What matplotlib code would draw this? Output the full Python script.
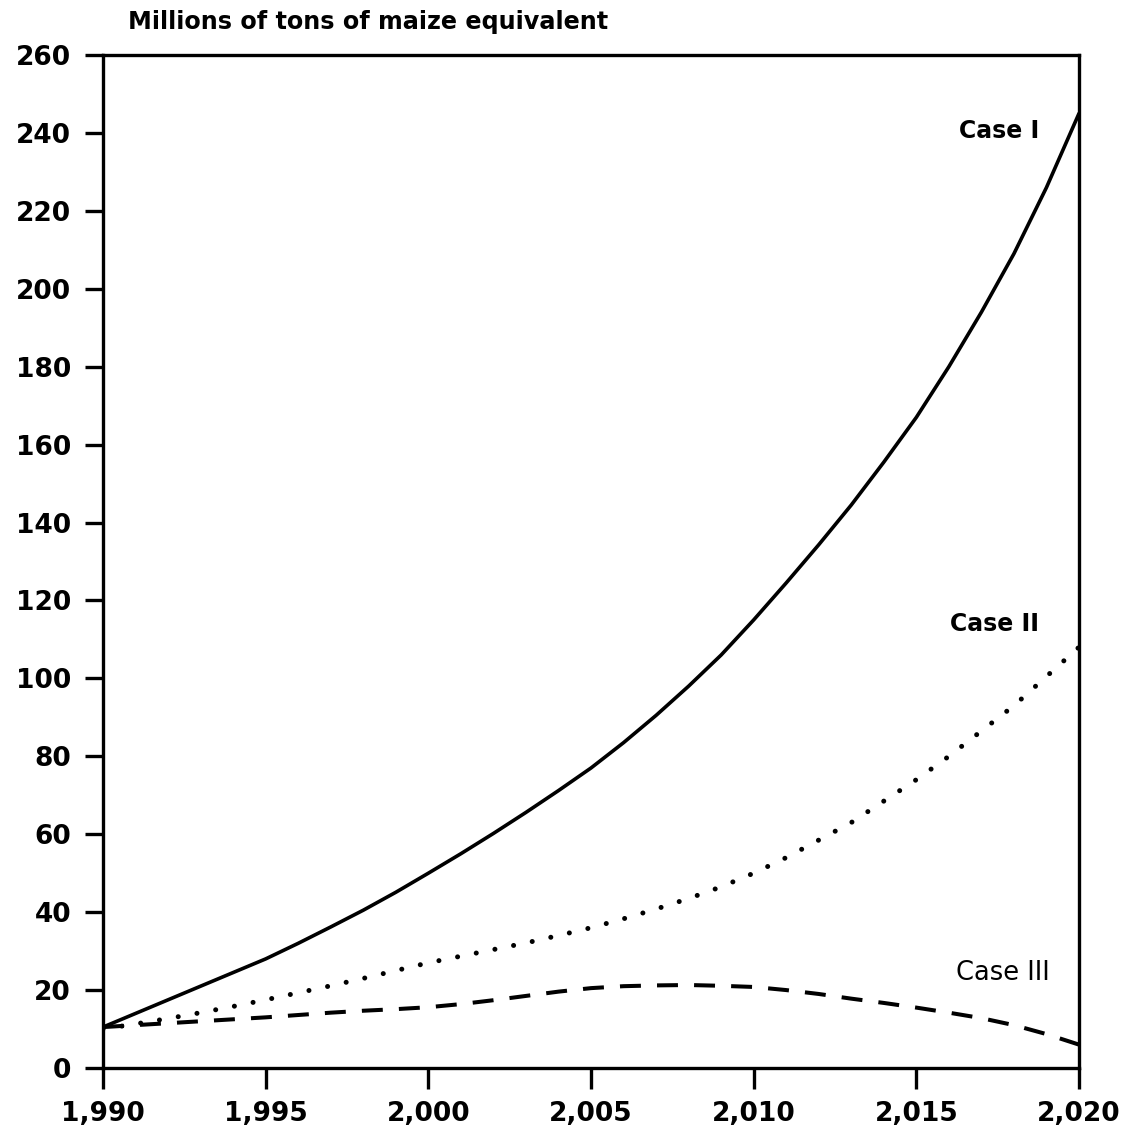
import matplotlib
matplotlib.use("Agg")
import matplotlib.pyplot as plt
from matplotlib.ticker import FuncFormatter

years = list(range(1990, 2021))
case_i = [10.5, 14, 17.5, 21, 24.5, 28, 32, 36.2, 40.5, 45.1, 50,
          55, 60.2, 65.6, 71.2, 77, 83.5, 90.5, 98, 106, 115,
          124.5, 134.3, 144.5, 155.5, 167, 180, 194, 209, 226, 245]
case_ii = [10, 11.3, 12.7, 14.2, 15.8, 17.5, 19.3, 21.1, 23, 25, 27,
           28.7, 30.4, 32.1, 34, 36, 38.3, 40.8, 43.5, 46.5, 50,
           54, 58.5, 63, 68.5, 74, 80, 86.5, 93, 100.5, 108]
case_iii = [10.5, 11, 11.5, 12, 12.5, 13, 13.6, 14.2, 14.7, 15.1, 15.6,
            16.4, 17.4, 18.5, 19.6, 20.5, 21, 21.2, 21.3, 21.1, 20.8,
            20, 19, 17.8, 16.7, 15.5, 14.2, 12.8, 11, 8.7, 6]

x_ticks = [1990, 1995, 2000, 2005, 2010, 2015, 2020]
y_ticks = list(range(0, 261, 20))
title = "Millions of tons of maize equivalent"
labels = ["Case I", "Case II", "Case III"]

fig = plt.figure(figsize=(11.28, 11.33), dpi=100)
ax = fig.add_axes([103/1128, 1 - 1068/1133, (1079-103)/1128, (1068-55)/1133])

ax.plot(years, case_i, color="black", lw=2.6, solid_capstyle="round", solid_joinstyle="round")
ax.plot(years, case_ii, color="black", lw=3.6, linestyle=(0, (0.01, 3.8)), dash_capstyle="round")
ax.plot(years, case_iii, color="black", lw=2.9, linestyle=(0, (5.2, 4.0)), dash_capstyle="butt")

ax.set_xlim(1990, 2020)
ax.set_ylim(0, 260)
ax.set_xticks(x_ticks)
ax.set_yticks(y_ticks)
ax.xaxis.set_major_formatter(FuncFormatter(lambda v, p: f"{int(v):,}"))
for s in ax.spines.values():
    s.set_linewidth(2.4)
ax.tick_params(axis="x", direction="out", length=15, width=2.4, pad=9)
ax.tick_params(axis="y", direction="out", length=13, width=2.4, pad=10)
for t in ax.get_xticklabels() + ax.get_yticklabels():
    t.set_fontfamily("DejaVu Sans")
    t.set_fontweight("bold")
    t.set_fontsize(19)

fig.text(128/1128, 1 - 22/1133, title, fontsize=17.2, fontweight="bold",
         family="DejaVu Sans", ha="left", va="center")

ax.text(2017.55, 240.5, labels[0], fontsize=17, fontweight="bold", ha="center", va="center", family="DejaVu Sans")
ax.text(2017.4, 114, labels[1], fontsize=17, fontweight="bold", ha="center", va="center", family="DejaVu Sans")
ax.text(2017.65, 24.5, labels[2], fontsize=18.5, ha="center", va="center", family="DejaVu Sans")

fig.savefig("out.png", dpi=100)
